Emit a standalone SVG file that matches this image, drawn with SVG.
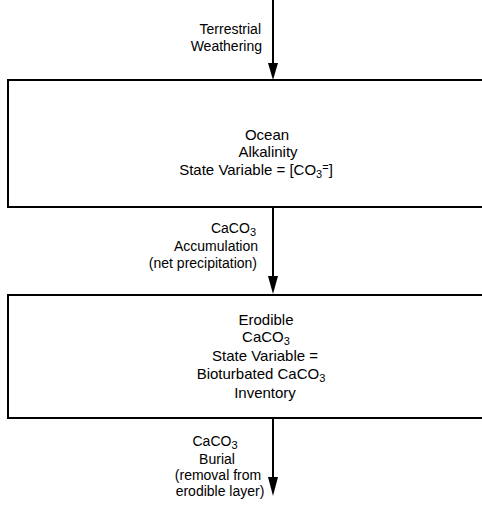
<svg xmlns="http://www.w3.org/2000/svg" width="482" height="508" viewBox="0 0 482 508">
<style>
text{font-family:"Liberation Sans",Arial,sans-serif;font-size:15px;fill:#000}
.c{text-anchor:middle}
.e{text-anchor:end}
.l{font-size:14px}
.box{fill:#fff;stroke:#000;stroke-width:2}
.ln{stroke:#000;stroke-width:2;fill:none}
.sub{font-size:11px}
</style>
<rect width="482" height="508" fill="#fff"/>
<g id="connectors">
<line class="ln" x1="273" y1="0" x2="273" y2="64"/>
<path d="M268,63 L278,63 L273,80 Z" fill="#000"/>
<line class="ln" x1="273" y1="207" x2="273" y2="277"/>
<path d="M268,276 L278,276 L273,294 Z" fill="#000"/>
<line class="ln" x1="273" y1="418" x2="273" y2="478"/>
<path d="M268,477 L278,477 L273,496 Z" fill="#000"/>
</g>
<g id="label-weathering">
<text class="e l" x="261" y="34">Terrestrial</text>
<text class="e l" x="262" y="51">Weathering</text>
</g>
<g id="ocean-alkalinity">
<rect class="box" x="8" y="80" width="490" height="127"/>
<text class="c" x="267" y="140">Ocean</text>
<text class="c" x="268" y="157">Alkalinity</text>
<text class="c" x="256" y="175">State Variable = [CO<tspan class="sub" dy="3">3</tspan><tspan class="sub" dy="-7">=</tspan><tspan dy="4">]</tspan></text>
</g>
<g id="label-accumulation">
<text class="e l" x="256" y="233">CaCO<tspan class="sub" dy="3">3</tspan></text>
<text class="e l" x="258" y="251">Accumulation</text>
<text class="e l" x="257" y="268">(net precipitation)</text>
</g>
<g id="erodible-caco3">
<rect class="box" x="8" y="295" width="490" height="123"/>
<text class="c" x="266" y="325">Erodible</text>
<text class="c" x="266" y="342">CaCO<tspan class="sub" dy="3">3</tspan></text>
<text class="c" x="265" y="361">State Variable =</text>
<text class="c" x="261" y="379">Bioturbated CaCO<tspan class="sub" dy="3">3</tspan></text>
<text class="c" x="265" y="398">Inventory</text>
</g>
<g id="label-burial">
<text class="c l" x="215" y="446">CaCO<tspan class="sub" dy="3">3</tspan></text>
<text class="c l" x="217" y="464">Burial</text>
<text class="c l" x="218" y="480">(removal from</text>
<text class="c l" x="220" y="496">erodible layer)</text>
</g>
</svg>
